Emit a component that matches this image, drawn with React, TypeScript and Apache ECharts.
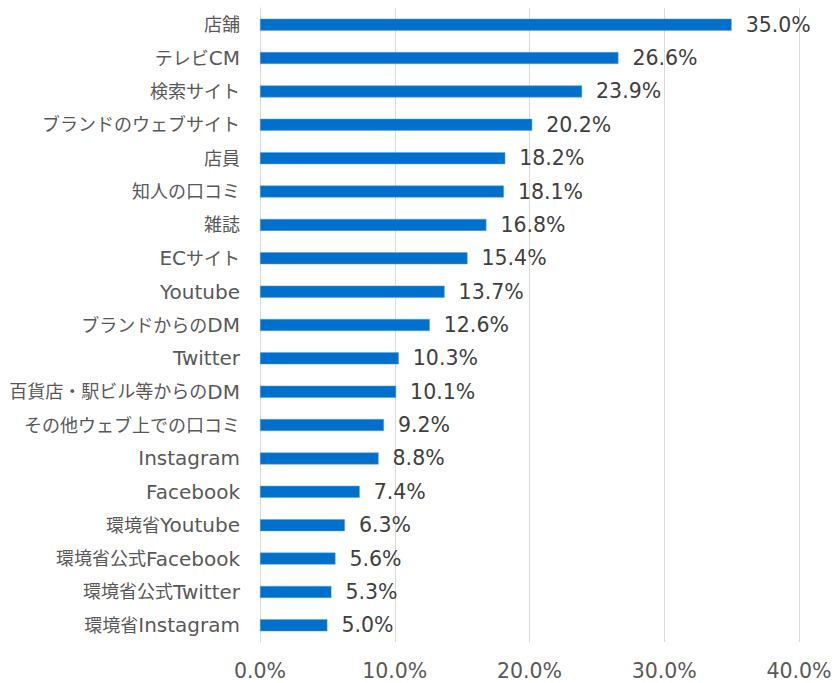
import React, { useEffect, useRef } from "react";
import * as echarts from "echarts";

const categories = [
  "店舗",
  "テレビCM",
  "検索サイト",
  "ブランドのウェブサイト",
  "店員",
  "知人の口コミ",
  "雑誌",
  "ECサイト",
  "Youtube",
  "ブランドからのDM",
  "Twitter",
  "百貨店・駅ビル等からのDM",
  "その他ウェブ上での口コミ",
  "Instagram",
  "Facebook",
  "環境省Youtube",
  "環境省公式Facebook",
  "環境省公式Twitter",
  "環境省Instagram",
];

const values = [35.0, 26.6, 23.9, 20.2, 18.2, 18.1, 16.8, 15.4, 13.7, 12.6, 10.3, 10.1, 9.2, 8.8, 7.4, 6.3, 5.6, 5.3, 5.0];

const xTicks = [0, 10, 20, 30, 40];

const FONT = "Verdana, 'DejaVu Sans', 'Noto Sans CJK JP', sans-serif";

function splitRuns(s: string): string {
  const runs = s.match(/[\x20-\x7e]+|[^\x20-\x7e]+/g) || [];
  return runs.map((r) => (/^[\x20-\x7e]+$/.test(r) ? `{l|${r}}` : `{c|${r}}`)).join("");
}

export default function App() {
  const ref = useRef<HTMLDivElement>(null);
  useEffect(() => {
    document.body.style.margin = "0";
    const chart = echarts.init(ref.current!, null, { renderer: "svg" });
    chart.setOption({
      animation: false,
      backgroundColor: "#ffffff",
      grid: { left: 260, right: 36, top: 8, bottom: 41, containLabel: false },
      xAxis: {
        type: "value",
        min: xTicks[0],
        max: xTicks[xTicks.length - 1],
        interval: 10,
        axisLine: { show: false },
        axisTick: { show: false },
        splitLine: { show: true, lineStyle: { color: "#d9d9d9", width: 1 } },
        axisLabel: {
          margin: 19,
          color: "#595959",
          fontSize: 20.5,
          fontFamily: FONT,
          formatter: (v: number) => v.toFixed(1) + "%",
        },
      },
      yAxis: {
        type: "category",
        data: categories,
        inverse: true,
        axisLine: { show: true, lineStyle: { color: "#d9d9d9", width: 1 } },
        axisTick: { show: false },
        axisLabel: {
          margin: 20,
          color: "#595959",
          fontSize: 18,
          fontFamily: FONT,
          formatter: (v: string) => splitRuns(v),
          rich: {
            l: { fontSize: 20, fontFamily: FONT, color: "#595959" },
            c: { fontSize: 18, fontFamily: FONT, color: "#595959" },
          },
        },
      },
      series: [
        {
          type: "bar",
          data: values,
          barWidth: 12,
          itemStyle: { color: "#0070CC", borderColor: "#5ba3e0", borderWidth: 0.5 },
          label: {
            show: true,
            position: "right",
            distance: 14,
            color: "#404040",
            fontSize: 20.5,
            fontFamily: FONT,
            formatter: (p: any) => p.value.toFixed(1) + "%",
          },
        },
      ],
    });
    return () => chart.dispose();
  }, []);
  return (
    <div
      ref={ref}
      style={{ position: "absolute", left: 0, top: 0, width: 835, height: 683 }}
    />
  );
}
